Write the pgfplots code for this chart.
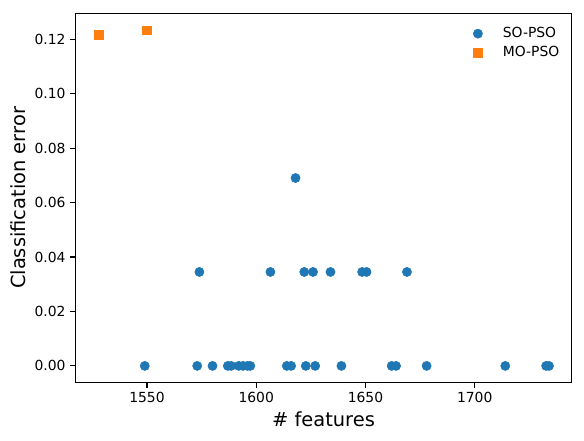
\documentclass[border=0pt]{standalone}
\usepackage{pgfplots}
\pgfplotsset{compat=1.18}
\usepackage{fontspec}
\setmainfont{DejaVu Sans}
\definecolor{tabblue}{HTML}{1F77B4}
\definecolor{taborange}{HTML}{FF7F0E}
\begin{document}
\begin{tikzpicture}[x=0.72pt,y=0.72pt]
\useasboundingbox (0,0) rectangle (584,441);
\begin{axis}[
  at={(75.3*0.72pt,58.3*0.72pt)}, anchor=south west,
  scale only axis,
  width=496.4*0.72pt, height=369.4*0.72pt,
  xmin=1517.2, xmax=1744.4,
  ymin=-0.00617, ymax=0.1295,
  xtick={1550,1600,1650,1700},
  ytick={0,0.02,0.04,0.06,0.08,0.10,0.12},
  xtick pos=left, ytick pos=left,
  tick align=outside,
  major tick length=3.5pt,
  every tick/.style={black, line width=0.8pt},
  axis line style={line width=0.8pt},
  /pgf/number format/assume math mode=true,
  x tick label style={/pgf/number format/1000 sep={}, font=\fontsize{10}{12}\selectfont},
  y tick label style={/pgf/number format/.cd, fixed, fixed zerofill, precision=2, /tikz/.cd, font=\fontsize{10}{12}\selectfont},
  xlabel={\# features},
  ylabel={Classification error},
  label style={font=\fontsize{14}{16}\selectfont},
  xlabel style={at={(axis description cs:0.5,0)}, anchor=base, yshift=-31.2pt},
  ylabel style={at={(axis description cs:0,0.5)}, anchor=base, yshift=35.5pt},
  legend style={draw=none, fill=none, at={(axis description cs:1,1)}, anchor=north east,
    xshift=-3.7pt, yshift=-6pt, font=\fontsize{10}{12}\selectfont, row sep=0.9pt},
  legend cell align=left,
  legend image code/.code={\draw[#1] plot coordinates {(0pt,0pt)}; \path[draw=none,fill=none] (-4pt,0pt) (16pt,0pt);},
]
\addplot[only marks, mark=*, mark size=3.3pt, color=tabblue] coordinates {
(1549,0) (1573,0) (1580,0) (1587,0) (1588.5,0) (1592,0) (1594,0) (1596,0) (1597.3,0)
(1614,0) (1616,0) (1622.7,0) (1627,0) (1639,0) (1662,0) (1664,0) (1678,0) (1714,0)
(1732.7,0) (1734,0)
(1574,0.0345) (1606.5,0.0345) (1622,0.0345) (1626,0.0345) (1634,0.0345)
(1648.5,0.0345) (1650.5,0.0345) (1669,0.0345)
(1618,0.069)
};
\addlegendentry{SO-PSO}
\addplot[only marks, mark=square*, mark size=3.1pt, color=taborange] coordinates {
(1528,0.1216) (1550,0.1233)
};
\addlegendentry{MO-PSO}
\end{axis}
\end{tikzpicture}
\end{document}
